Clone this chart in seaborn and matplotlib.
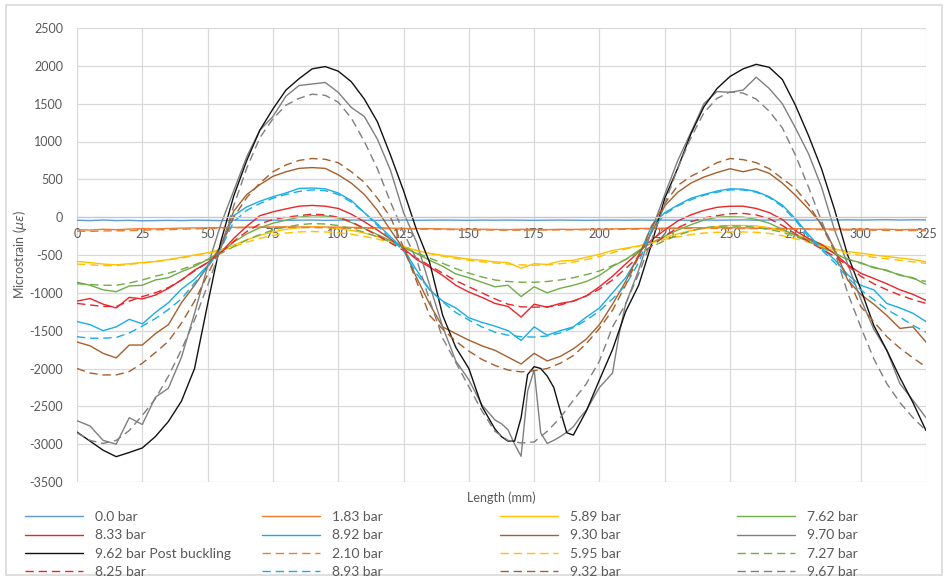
import matplotlib
matplotlib.use("Agg")
import matplotlib.pyplot as plt
from matplotlib.lines import Line2D
from matplotlib.patches import Rectangle
import pandas as pd
import seaborn as sns

# Position along the specimen (mm)
length_mm = [0, 5, 10, 15, 20, 25, 30, 35, 40, 45, 50,
             55, 60, 65, 70, 75, 80, 85, 90, 95, 100, 105,
             110, 115, 120, 125, 130, 135, 140, 145, 150, 155, 160,
             165, 170, 175, 180, 185, 190, 195, 200, 205, 210, 215,
             220, 225, 230, 235, 240, 245, 250, 255, 260, 265, 270,
             275, 280, 285, 290, 295, 300, 305, 310, 315, 320, 325]

# Denser sampling for the two records with the sharp feature near 175 mm
length_fine_mm = [0, 5, 10, 15, 20, 25, 30, 35, 40, 45, 50,
                  55, 60, 65, 70, 75, 80, 85, 90, 95, 100, 105,
                  110, 115, 120, 125, 130, 135, 140, 145, 150, 155, 160,
                  162.5, 165, 167.5, 170, 172.5, 175, 177.5, 180, 182.5, 185,
                  187.5, 190, 192.5, 195,
                  200, 205, 207.5, 210,
                  215, 220, 225, 230, 235, 240, 245, 250, 255, 260, 265, 270,
                  275, 280, 285, 290, 295, 300, 305, 310, 315, 320, 325]

# Microstrain readings, solid = loading records, dashed = repeat records
p_0_00 = [-40, -45, -38, -45, -42, -48, -45, -42, -45, -40, -42,
          -45, -40, -42, -38, -40, -42, -40, -38, -42, -40, -38,
          -40, -42, -40, -38, -42, -40, -38, -40, -42, -38, -40,
          -38, -40, -42, -40, -38, -40, -42, -40, -38, -40, -38,
          -40, -38, -40, -42, -38, -40, -38, -36, -40, -38, -36,
          -38, -40, -36, -38, -35, -38, -36, -34, -38, -35, -36]
p_1_83 = [-165, -170, -160, -165, -158, -150, -155, -150, -145, -142, -140,
          -138, -135, -132, -130, -130, -128, -130, -128, -130, -132, -135,
          -138, -140, -145, -148, -150, -152, -155, -158, -160, -160, -162,
          -165, -160, -162, -165, -160, -162, -158, -160, -155, -152, -150,
          -148, -145, -142, -140, -140, -138, -140, -142, -145, -148, -150,
          -152, -155, -158, -155, -160, -158, -162, -160, -165, -162, -165]
p_5_89 = [-585, -600, -620, -630, -615, -600, -585, -560, -530, -500, -470,
          -430, -370, -300, -240, -195, -160, -140, -130, -135, -150, -175,
          -210, -255, -310, -390, -440, -480, -505, -530, -555, -570, -590,
          -600, -675, -615, -625, -580, -570, -530, -490, -440, -410, -380,
          -330, -270, -220, -180, -150, -125, -110, -110, -115, -140, -180,
          -230, -290, -360, -420, -455, -475, -500, -520, -540, -560, -590]
p_7_62 = [-860, -900, -960, -985, -910, -900, -830, -800, -720, -650, -560,
          -460, -330, -220, -140, -80, -40, 0, 20, 15, -10, -70,
          -150, -230, -310, -400, -480, -570, -650, -750, -800, -860, -920,
          -900, -1050, -920, -1000, -940, -900, -850, -770, -650, -560, -440,
          -340, -250, -170, -100, -40, 0, 5, 0, -30, -80, -160,
          -240, -300, -380, -480, -560, -600, -670, -700, -770, -800, -890]
p_8_33 = [-1110, -1075, -1150, -1200, -1060, -1080, -1030, -940, -830, -700, -600,
          -470, -280, -120, 20, 70, 110, 145, 155, 145, 115, 40,
          -60, -170, -290, -410, -560, -660, -770, -900, -990, -1060, -1140,
          -1180, -1320, -1150, -1190, -1140, -1110, -1040, -920, -780, -620, -460,
          -300, -170, -50, 30, 90, 130, 145, 145, 115, 60, -30,
          -180, -280, -360, -480, -630, -740, -810, -880, -960, -1020, -1100]
p_8_92 = [-1380, -1420, -1500, -1450, -1350, -1410, -1260, -1130, -950, -820, -640,
          -400, 20, 136, 210, 270, 320, 380, 385, 375, 320, 220,
          60, -90, -260, -420, -700, -960, -1110, -1200, -1330, -1390, -1440,
          -1500, -1630, -1450, -1560, -1500, -1450, -1320, -1200, -1000, -800, -520,
          -110, 60, 160, 250, 300, 345, 375, 370, 340, 270, 160,
          -20, -230, -410, -560, -760, -900, -960, -1140, -1200, -1270, -1380]
p_9_30 = [-1650, -1700, -1800, -1860, -1690, -1690, -1540, -1420, -1130, -900, -650,
          -380, 80, 300, 430, 540, 600, 645, 655, 645, 560, 450,
          300, 90, -170, -420, -800, -1150, -1450, -1540, -1625, -1700, -1760,
          -1850, -1940, -1800, -1900, -1840, -1740, -1610, -1420, -1150, -850, -500,
          -200, 150, 330, 450, 530, 590, 640, 600, 640, 580, 450,
          290, 110, -90, -420, -830, -1020, -1150, -1300, -1470, -1450, -1650]
p_9_70 = [-2690, -2760, -2950, -3000, -2650, -2740, -2380, -2260, -1850, -1270, -650,
          -100, 350, 800, 1150, 1330, 1600, 1740, 1760, 1780, 1650, 1450,
          1330, 1030, 620, 60, -330, -900, -1450, -1900, -2150, -2480, -2680,
          -2730, -2810, -3000, -3160, -2300, -2020, -2850, -2990, -2950, -2900,
          -2840, -2770, -2650, -2550,
          -2250, -2060, -1550, -1150,
          -700, -170, 300, 750, 1120, 1500, 1660, 1650, 1680, 1850, 1700, 1500,
          1180, 840, 400, -170, -620, -1080, -1480, -1760, -2200, -2420, -2650]
p_9_62_pb = [-2840, -2960, -3080, -3165, -3110, -3050, -2900, -2700, -2430, -2000, -1150,
             -330, 280, 750, 1150, 1430, 1680, 1830, 1960, 1990, 1930, 1790,
             1560, 1260, 820, 350, -170, -600, -1300, -1720, -2000, -2500, -2800,
             -2900, -2960, -2960, -2650, -2080, -1975, -2000, -2100, -2250, -2560,
             -2850, -2880, -2720, -2560,
             -2150, -1750, -1500, -1250,
             -900, -350, 250, 650, 1100, 1460, 1700, 1860, 1960, 2020, 1980, 1820,
             1480, 1080, 640, 100, -500, -950, -1430, -1760, -2120, -2450, -2820]
p_2_10 = [-185, -188, -182, -180, -178, -172, -168, -165, -160, -155, -150,
          -145, -140, -138, -135, -135, -135, -136, -138, -140, -142, -145,
          -148, -150, -152, -155, -158, -160, -162, -165, -168, -170, -170,
          -172, -172, -170, -170, -168, -168, -165, -165, -162, -160, -158,
          -155, -152, -150, -148, -148, -148, -150, -150, -152, -155, -158,
          -160, -162, -165, -168, -170, -172, -172, -175, -175, -178, -180]
p_5_95 = [-620, -630, -640, -640, -625, -605, -590, -565, -540, -510, -480,
          -440, -390, -330, -280, -240, -210, -195, -190, -195, -205, -225,
          -255, -290, -335, -390, -440, -480, -515, -545, -570, -590, -605,
          -620, -630, -635, -630, -615, -595, -560, -520, -470, -420, -385,
          -340, -295, -260, -230, -210, -200, -195, -195, -200, -215, -245,
          -285, -330, -390, -440, -480, -505, -530, -550, -570, -590, -610]
p_7_27 = [-880, -890, -900, -900, -870, -830, -780, -740, -690, -630, -560,
          -480, -390, -300, -230, -170, -130, -100, -85, -90, -110, -150,
          -200, -260, -330, -400, -470, -540, -610, -680, -740, -790, -830,
          -850, -860, -860, -850, -830, -800, -760, -710, -640, -560, -470,
          -390, -310, -240, -180, -140, -120, -115, -120, -135, -160, -200,
          -255, -320, -400, -480, -550, -610, -660, -710, -760, -810, -850]
p_8_25 = [-1140, -1160, -1180, -1180, -1110, -1050, -1000, -930, -830, -710, -600,
          -470, -320, -190, -90, -30, 0, 20, 40, 30, 0, -60,
          -150, -240, -340, -440, -540, -640, -740, -840, -920, -1000, -1080,
          -1150, -1185, -1190, -1185, -1160, -1110, -1040, -950, -830, -680, -520,
          -380, -250, -140, -60, -10, 20, 45, 50, 30, -20, -110,
          -220, -320, -420, -520, -640, -780, -880, -960, -1030, -1090, -1140]
p_8_93 = [-1580, -1600, -1600, -1590, -1530, -1440, -1340, -1220, -1080, -870, -660,
          -420, -60, 90, 180, 250, 300, 340, 360, 350, 300, 200,
          60, -110, -290, -440, -750, -960, -1120, -1260, -1360, -1450, -1520,
          -1560, -1580, -1585, -1570, -1530, -1460, -1360, -1240, -1080, -900, -600,
          -170, 40, 150, 230, 290, 330, 360, 360, 330, 260, 140,
          -40, -260, -430, -600, -800, -960, -1090, -1220, -1320, -1430, -1520]
p_9_32 = [-2000, -2060, -2085, -2085, -2040, -1930, -1790, -1640, -1400, -1110, -760,
          -400, 0, 260, 450, 600, 690, 750, 775, 765, 720, 600,
          460, 250, 0, -400, -850, -1300, -1480, -1640, -1770, -1880, -1960,
          -2020, -2045, -2030, -2000, -1930, -1830, -1670, -1470, -1230, -900, -520,
          -120, 180, 420, 540, 625, 720, 775, 760, 720, 640, 510,
          380, 170, -110, -450, -800, -1180, -1380, -1580, -1730, -1860, -1980]
p_9_67 = [-2850, -2950, -2990, -2950, -2820, -2620, -2400, -2100, -1750, -1360, -900,
          -420, 150, 650, 1050, 1300, 1480, 1570, 1625, 1610, 1520, 1310,
          1000, 640, 200, -200, -560, -1100, -1600, -1920, -2240, -2560, -2830,
          -2950, -2985, -2970, -2830, -2650, -2420, -2200, -1900, -1450, -1150, -750,
          -300, 180, 650, 1050, 1380, 1570, 1655, 1640, 1560, 1400, 1180,
          820, 400, -50, -450, -1000, -1450, -1870, -2200, -2450, -2650, -2820]

# Legend entries in reading order (row by row)
series_labels = ["0.0 bar", "1.83 bar", "5.89 bar", "7.62 bar",
                 "8.33 bar", "8.92 bar", "9.30 bar", "9.70 bar",
                 "9.62 bar Post buckling", "2.10 bar", "5.95 bar", "7.27 bar",
                 "8.25 bar", "8.93 bar", "9.32 bar", "9.67 bar"]
series_values = [p_0_00, p_1_83, p_5_89, p_7_62,
                 p_8_33, p_8_92, p_9_30, p_9_70,
                 p_9_62_pb, p_2_10, p_5_95, p_7_27,
                 p_8_25, p_8_93, p_9_32, p_9_67]
series_x = [length_mm] * 7 + [length_fine_mm, length_fine_mm] + [length_mm] * 7
series_colors = ["#5B9BD5", "#ED7D31", "#FFC000", "#70AD47",
                 "#E8262A", "#1AADE4", "#A65F2C", "#7F7F7F",
                 "#111111", "#ED7D31", "#FFC000", "#70AD47",
                 "#E8262A", "#1AADE4", "#A65F2C", "#7F7F7F"]
series_dashed = [False] * 9 + [True] * 7

frames = []
for lab, xs, ys in zip(series_labels, series_x, series_values):
    frames.append(pd.DataFrame({"Length": xs, "Strain": ys, "Series": lab}))
df = pd.concat(frames, ignore_index=True)

sns.set_theme(style="white")
plt.rcParams["font.family"] = ["Lato", "DejaVu Sans"]
plt.rcParams["axes.unicode_minus"] = False
plt.rcParams["mathtext.fontset"] = "dejavusans"

text_col = "#595959"
grid_col = "#D9D9D9"
dash_pattern = (6, 3.5)
lw = 1.0

fig = plt.figure(figsize=(9.48, 5.8), dpi=100)
ax = fig.add_axes([77 / 948, 1 - 482 / 580, 849 / 948, 454 / 580])

palette = dict(zip(series_labels, series_colors))
dashes = {lab: (dash_pattern if d else "") for lab, d in zip(series_labels, series_dashed)}

sns.lineplot(data=df, x="Length", y="Strain", hue="Series", style="Series",
             hue_order=series_labels, style_order=series_labels,
             palette=palette, dashes=dashes, linewidth=lw,
             estimator=None, errorbar=None, legend=False, ax=ax)

ax.set_xlim(0, 325)
ax.set_ylim(-3500, 2500)
ax.set_xticks(list(range(0, 326, 25)))
ax.set_yticks(list(range(-3500, 2501, 500)))
ax.grid(True, color=grid_col, linewidth=0.9)
ax.set_axisbelow(True)
for side in ("left", "right", "top"):
    ax.spines[side].set_visible(False)
ax.spines["bottom"].set_position(("data", 0))
ax.spines["bottom"].set_color("#C8C8C8")
ax.spines["bottom"].set_linewidth(0.9)
ax.tick_params(axis="both", length=0, colors=text_col, labelsize=9)
ax.tick_params(axis="x", pad=8)
ax.tick_params(axis="y", pad=10)

ax.set_xlabel("Length (mm)", color=text_col, fontsize=9)
ax.set_ylabel(r"Microstrain ($\mu\varepsilon$)", color=text_col, fontsize=9)
ax.xaxis.set_label_coords(0.5, -0.02)
ax.yaxis.set_label_coords(-0.056, 0.5)

# Legend: four columns, each placed at its own horizontal position
handles = [Line2D([0], [0], color=c, linewidth=lw,
                  linestyle=((0, dash_pattern) if d else "-"))
           for c, d in zip(series_colors, series_dashed)]
col_x = [25 / 948, 262 / 948, 500 / 948, 737 / 948]
for c in range(4):
    idx = [r * 4 + c for r in range(4)]
    leg = fig.legend([handles[i] for i in idx], [series_labels[i] for i in idx],
                     loc="upper left", bbox_to_anchor=(col_x[c], 1 - 511 / 580),
                     frameon=False, fontsize=10, handlelength=4.2,
                     handletextpad=0.85, labelspacing=0.46, borderpad=0,
                     borderaxespad=0)
    for t in leg.get_texts():
        t.set_color(text_col)

fig.patches.append(Rectangle((0.006, 0.008), 0.988, 0.984, transform=fig.transFigure,
                             fill=False, edgecolor=grid_col, linewidth=1.2))

fig.savefig("out.png", dpi=100, facecolor="white")
